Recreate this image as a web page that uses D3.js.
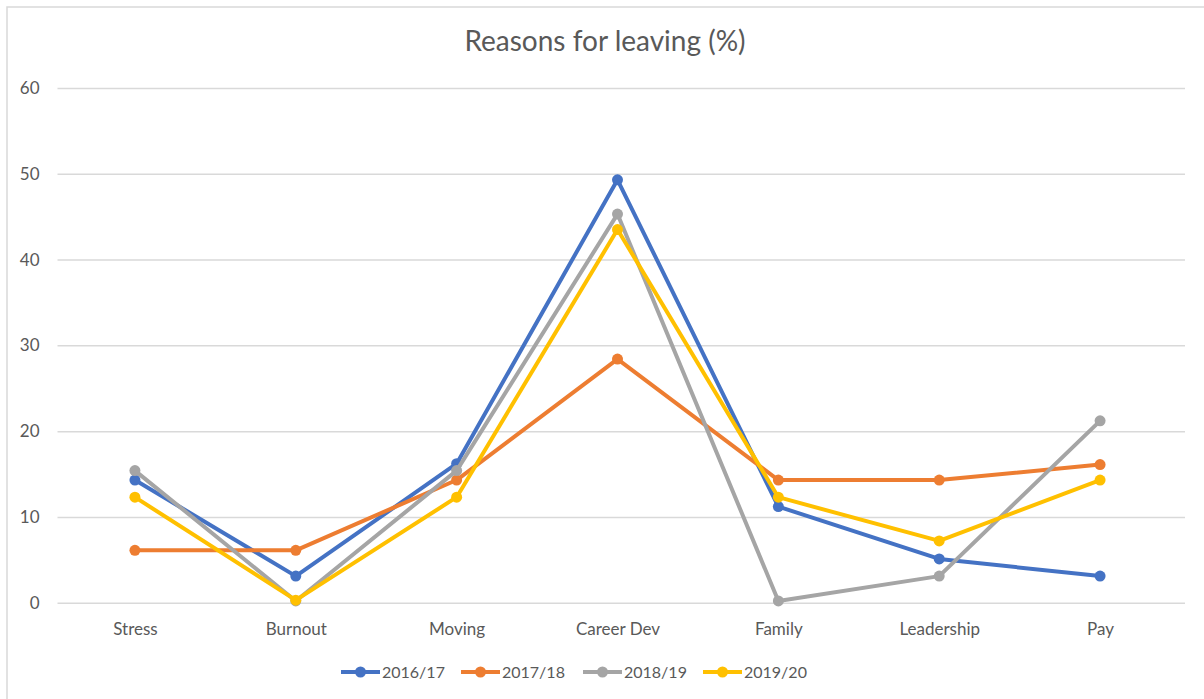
<!DOCTYPE html>
<html>
<head>
<meta charset="utf-8">
<script src="https://cdn.jsdelivr.net/npm/d3@7"></script>
<style>
  html, body { margin: 0; padding: 0; background: #ffffff; }
  svg { display: block; font-family: Lato, "Open Sans", sans-serif; }
</style>
</head>
<body>
<svg id="chart" width="1204" height="699"></svg>
<script>
// Reasons staff gave for leaving, by survey year (%)
const categories = ["Stress", "Burnout", "Moving", "Career Dev", "Family", "Leadership", "Pay"];
const seriesNames = ["2016/17", "2017/18", "2018/19", "2019/20"];
const values2016 = [14.3, 3.1, 16.2, 49.3, 11.2, 5.1, 3.1];
const values2017 = [6.1, 6.1, 14.3, 28.4, 14.3, 14.3, 16.1];
const values2018 = [15.4, 0.2, 15.4, 45.3, 0.2, 3.1, 21.2];
const values2019 = [12.3, 0.3, 12.3, 43.5, 12.3, 7.2, 14.3];
const yTicks = [0, 10, 20, 30, 40, 50, 60];
const colors = ["#4472C4", "#ED7D31", "#A5A5A5", "#FFC000"];

const series = [values2016, values2017, values2018, values2019].map((v, i) => ({
  name: seriesNames[i], values: v, color: colors[i]
}));

const svg = d3.select("#chart");
const plot = { left: 57.5, right: 1185, top: 88, bottom: 602.7 };

// chart frame
svg.append("rect")
  .attr("x", 7).attr("y", 7).attr("width", 1230).attr("height", 730)
  .attr("fill", "#fff").attr("stroke", "#D9D9D9").attr("stroke-width", 1.5);

const x = d3.scalePoint().domain(categories).range([plot.left - 3, plot.right - 4.5]).padding(0.5);
const y = d3.scaleLinear().domain([0, 60]).range([plot.bottom, plot.top]);

// title
svg.append("text")
  .attr("x", 605).attr("y", 51)
  .attr("text-anchor", "middle")
  .attr("fill", "#595959")
  .attr("font-size", 28)
  .text("Reasons for leaving (%)");

// horizontal gridlines
const yAxis = d3.axisLeft(y).tickValues(yTicks).tickSize(-(plot.right - plot.left)).tickPadding(18);
const gy = svg.append("g").attr("transform", `translate(${plot.left},0)`).call(yAxis);
gy.select(".domain").remove();
gy.selectAll(".tick line").attr("stroke", "#D9D9D9").attr("stroke-width", 1.5);
gy.selectAll(".tick text").attr("fill", "#595959").attr("font-size", 17)
  .attr("font-family", "Lato, 'Open Sans', sans-serif");

// category labels
const xAxis = d3.axisBottom(x).tickSize(0).tickPadding(20);
const gx = svg.append("g").attr("transform", `translate(0,${plot.bottom})`).call(xAxis);
gx.select(".domain").remove();
gx.selectAll(".tick text").attr("fill", "#595959").attr("font-size", 17)
  .attr("font-family", "Lato, 'Open Sans', sans-serif");

// lines and markers
const line = d3.line().x((d, i) => x(categories[i])).y(d => y(d));
const g = svg.append("g");
series.forEach(s => {
  g.append("path")
    .datum(s.values)
    .attr("fill", "none")
    .attr("stroke", s.color)
    .attr("stroke-width", 4)
    .attr("stroke-linejoin", "round")
    .attr("stroke-linecap", "round")
    .attr("d", line);
  g.selectAll(null)
    .data(s.values)
    .enter().append("circle")
    .attr("cx", (d, i) => x(categories[i]))
    .attr("cy", d => y(d))
    .attr("r", 5.5)
    .attr("fill", s.color);
});

// legend
const legendX = [341, 461, 583, 703];
const legend = svg.append("g").attr("transform", "translate(0,672)");
series.forEach((s, i) => {
  const lg = legend.append("g").attr("transform", `translate(${legendX[i]},0)`);
  lg.append("line").attr("x1", 0).attr("x2", 39).attr("y1", 0).attr("y2", 0)
    .attr("stroke", s.color).attr("stroke-width", 4);
  lg.append("circle").attr("cx", 19.5).attr("cy", 0).attr("r", 5.5).attr("fill", s.color);
  lg.append("text").attr("x", 41).attr("y", 6)
    .attr("fill", "#595959").attr("font-size", 16)
    .text(s.name);
});
</script>
</body>
</html>
